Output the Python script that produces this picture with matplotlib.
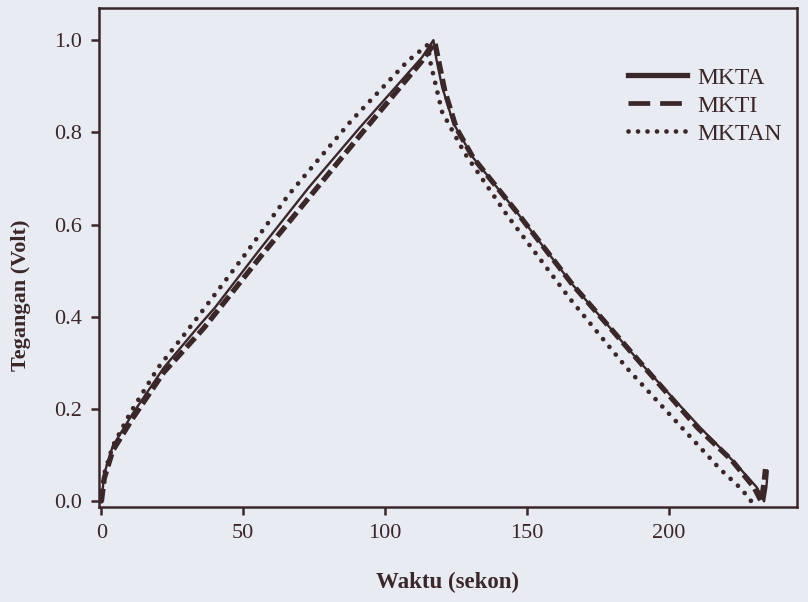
import matplotlib
matplotlib.use('Agg')
import matplotlib.pyplot as plt
from matplotlib.lines import Line2D

ink = '#3a2729'
paper = '#e9ebf2'

# charge / discharge curves (time in s, voltage in V)
t_mkta = [0, 1, 4, 11, 22, 35, 40, 55, 73, 91, 113, 117,
          118, 120, 124, 131, 146, 166, 190, 211, 223, 231, 233.5, 234.3, 234.8]
v_mkta = [0, 0.06, 0.12, 0.19, 0.29, 0.385, 0.42, 0.54, 0.68, 0.81, 0.963, 1.0,
          0.96, 0.90, 0.82, 0.745, 0.63, 0.47, 0.30, 0.16, 0.085, 0.03, 0.0, 0.03, 0.065]

t_mkti = [0, 1, 4, 11, 22, 36, 56, 74, 92, 113, 117.5,
          119, 121, 125, 131, 146, 166, 190, 210, 222, 230, 232.5, 233.5, 234]
v_mkti = [0, 0.05, 0.11, 0.18, 0.28, 0.375, 0.53, 0.665, 0.80, 0.955, 0.995,
          0.95, 0.89, 0.81, 0.745, 0.63, 0.47, 0.30, 0.16, 0.09, 0.03, 0.0, 0.04, 0.07]

t_mktan = [0, 1, 4, 10, 20, 29, 34, 50, 66, 88, 108, 115,
           116, 120, 128, 143, 165, 185, 204.5, 218, 225.5, 229]
v_mktan = [0, 0.06, 0.12, 0.19, 0.29, 0.36, 0.40, 0.53, 0.665, 0.825, 0.955, 0.99,
           0.95, 0.845, 0.755, 0.62, 0.44, 0.29, 0.16, 0.07, 0.027, 0.0]

x_ticks = [0, 50, 100, 150, 200]
y_ticks = [0.0, 0.2, 0.4, 0.6, 0.8, 1.0]
series_names = ['MKTA', 'MKTI', 'MKTAN']

plt.rcParams['font.family'] = ['Liberation Serif', 'DejaVu Serif']

fig = plt.figure(figsize=(8.08, 6.02), dpi=100, facecolor=paper)
ax = fig.add_axes([0.122, 0.158, 0.864, 0.829])
ax.set_facecolor(paper)

ax.plot(t_mkta, v_mkta, color=ink, lw=1.7)
ax.plot(t_mkti, v_mkti, color=ink, lw=3.8, linestyle=(0, (2.4, 1.0)),
        dash_capstyle='butt')
ax.plot(t_mktan, v_mktan, color=ink, lw=3.4, linestyle=(0, (0.01, 2.1)),
        dash_capstyle='round')

ax.set_xlim(-1, 245)
ax.set_ylim(-0.012, 1.07)
ax.set_xticks(x_ticks)
ax.set_xticklabels([str(x) for x in x_ticks])
ax.set_yticks(y_ticks)
ax.set_yticklabels(['%.1f' % y for y in y_ticks])
ax.tick_params(direction='out', length=6, width=1.8, color=ink,
               labelsize=16, labelcolor=ink, pad=6)
for s in ax.spines.values():
    s.set_color(ink)
    s.set_linewidth(1.8)

ax.set_xlabel('Waktu (sekon)', fontsize=16.5, fontweight='bold', color=ink)
ax.set_ylabel('Tegangan (Volt)', fontsize=16, fontweight='bold', color=ink)
ax.xaxis.set_label_coords(0.5, -0.13)
ax.yaxis.set_label_coords(-0.097, 0.425)

handles = [
    Line2D([], [], color=ink, lw=3.8),
    Line2D([], [], color=ink, lw=3.4, linestyle=(0, (4.6, 2.1)), dash_capstyle='butt'),
    Line2D([], [], color=ink, lw=3.4, linestyle=(0, (0.01, 2.0)), dash_capstyle='round'),
]
leg = ax.legend(handles, series_names, loc='upper left', bbox_to_anchor=(0.758, 0.881),
                frameon=False, fontsize=17, handlelength=2.5, handletextpad=0.45,
                labelspacing=0.27, borderpad=0, borderaxespad=0, labelcolor=ink)

fig.savefig('out.png', dpi=100, facecolor=paper)
